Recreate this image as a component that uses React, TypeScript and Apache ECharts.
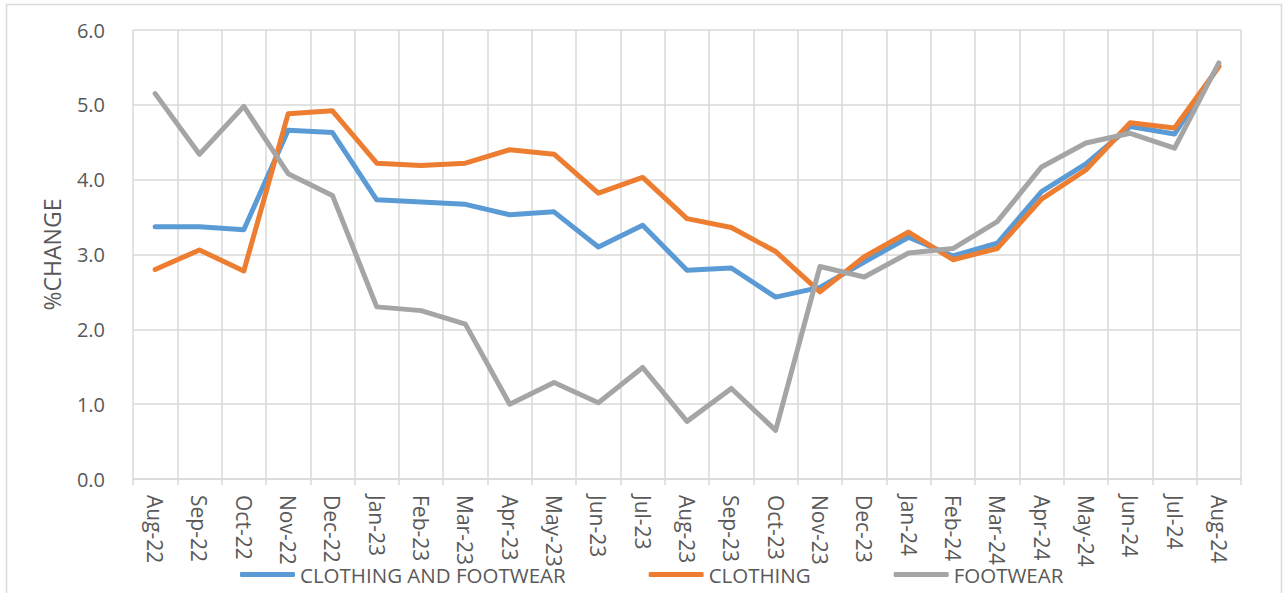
import React, { useEffect, useRef } from "react";
import * as echarts from "echarts";

const categories = [
  "Aug-22", "Sep-22", "Oct-22", "Nov-22", "Dec-22", "Jan-23", "Feb-23", "Mar-23",
  "Apr-23", "May-23", "Jun-23", "Jul-23", "Aug-23", "Sep-23", "Oct-23", "Nov-23",
  "Dec-23", "Jan-24", "Feb-24", "Mar-24", "Apr-24", "May-24", "Jun-24", "Jul-24", "Aug-24",
];

const clothingAndFootwear = [
  3.37, 3.37, 3.33, 4.66, 4.63, 3.73, 3.70, 3.67, 3.53, 3.57, 3.10, 3.39, 2.79,
  2.82, 2.43, 2.56, 2.90, 3.23, 2.98, 3.15, 3.84, 4.21, 4.71, 4.61, 5.52,
];
const clothing = [
  2.80, 3.06, 2.78, 4.88, 4.92, 4.22, 4.19, 4.22, 4.40, 4.34, 3.82, 4.03, 3.48,
  3.36, 3.04, 2.50, 2.97, 3.30, 2.93, 3.08, 3.74, 4.13, 4.76, 4.69, 5.51,
];
const footwear = [
  5.15, 4.34, 4.98, 4.08, 3.79, 2.30, 2.25, 2.07, 1.00, 1.29, 1.02, 1.49, 0.77,
  1.21, 0.65, 2.84, 2.70, 3.02, 3.08, 3.44, 4.17, 4.49, 4.62, 4.42, 5.56,
];

const seriesNames = ["CLOTHING AND FOOTWEAR", "CLOTHING", "FOOTWEAR"];
const seriesColors = ["#5B9BD5", "#ED7D31", "#A5A5A5"];
const seriesData = [clothingAndFootwear, clothing, footwear];

const FONT = "Open Sans";
const TEXT = "#595959";
const GRID = "#D9D9D9";

export default function App() {
  const ref = useRef<HTMLDivElement>(null);

  useEffect(() => {
    document.body.style.margin = "0";
    if (!ref.current) return;
    const chart = echarts.init(ref.current, undefined, { renderer: "svg" });
    chart.setOption({
      animation: false,
      backgroundColor: "#FFFFFF",
      textStyle: { fontFamily: FONT },
      graphic: [
        {
          type: "rect",
          shape: { x: 6.5, y: 4.5, width: 1275, height: 600 },
          style: { fill: "none", stroke: GRID, lineWidth: 1.5 },
          silent: true,
          z: -1,
        },
      ],
      grid: { left: 133, right: 42, top: 30, bottom: 114, containLabel: false },
      legend: {
        left: 240,
        top: 564,
        padding: 0,
        itemGap: 83,
        itemWidth: 55,
        itemHeight: 5,
        icon: "roundRect",
        textStyle: { fontFamily: FONT, fontSize: 20.5, color: TEXT, padding: [0, 0, 0, 0] },
        data: seriesNames,
      },
      xAxis: {
        type: "category",
        data: categories,
        boundaryGap: true,
        axisLine: { show: true, lineStyle: { color: GRID, width: 1.5 } },
        axisTick: { show: true, length: 6, lineStyle: { color: GRID, width: 1.5 } },
        splitLine: { show: true, lineStyle: { color: GRID, width: 1.5 } },
        axisLabel: {
          rotate: -90,
          interval: 0,
          margin: 16,
          fontFamily: FONT,
          fontSize: 21,
          color: TEXT,
        },
      },
      yAxis: {
        type: "value",
        min: 0,
        max: 6,
        interval: 1,
        name: "%CHANGE",
        nameLocation: "middle",
        nameGap: 70,
        nameRotate: 90,
        nameTextStyle: { fontFamily: FONT, fontSize: 23, color: TEXT },
        axisLine: { show: false },
        axisTick: { show: false },
        splitLine: { show: true, lineStyle: { color: GRID, width: 1.5 } },
        axisLabel: {
          margin: 28,
          fontFamily: FONT,
          fontSize: 20,
          color: TEXT,
          formatter: (v: number) => v.toFixed(1),
        },
      },
      series: seriesNames.map((name, i) => ({
        name,
        type: "line",
        data: seriesData[i],
        symbol: "none",
        showSymbol: false,
        color: seriesColors[i],
        lineStyle: { width: 5, color: seriesColors[i], cap: "round", join: "round" },
        itemStyle: { color: seriesColors[i] },
      })),
    });
    return () => chart.dispose();
  }, []);

  return <div ref={ref} style={{ width: 1283, height: 593 }} />;
}
